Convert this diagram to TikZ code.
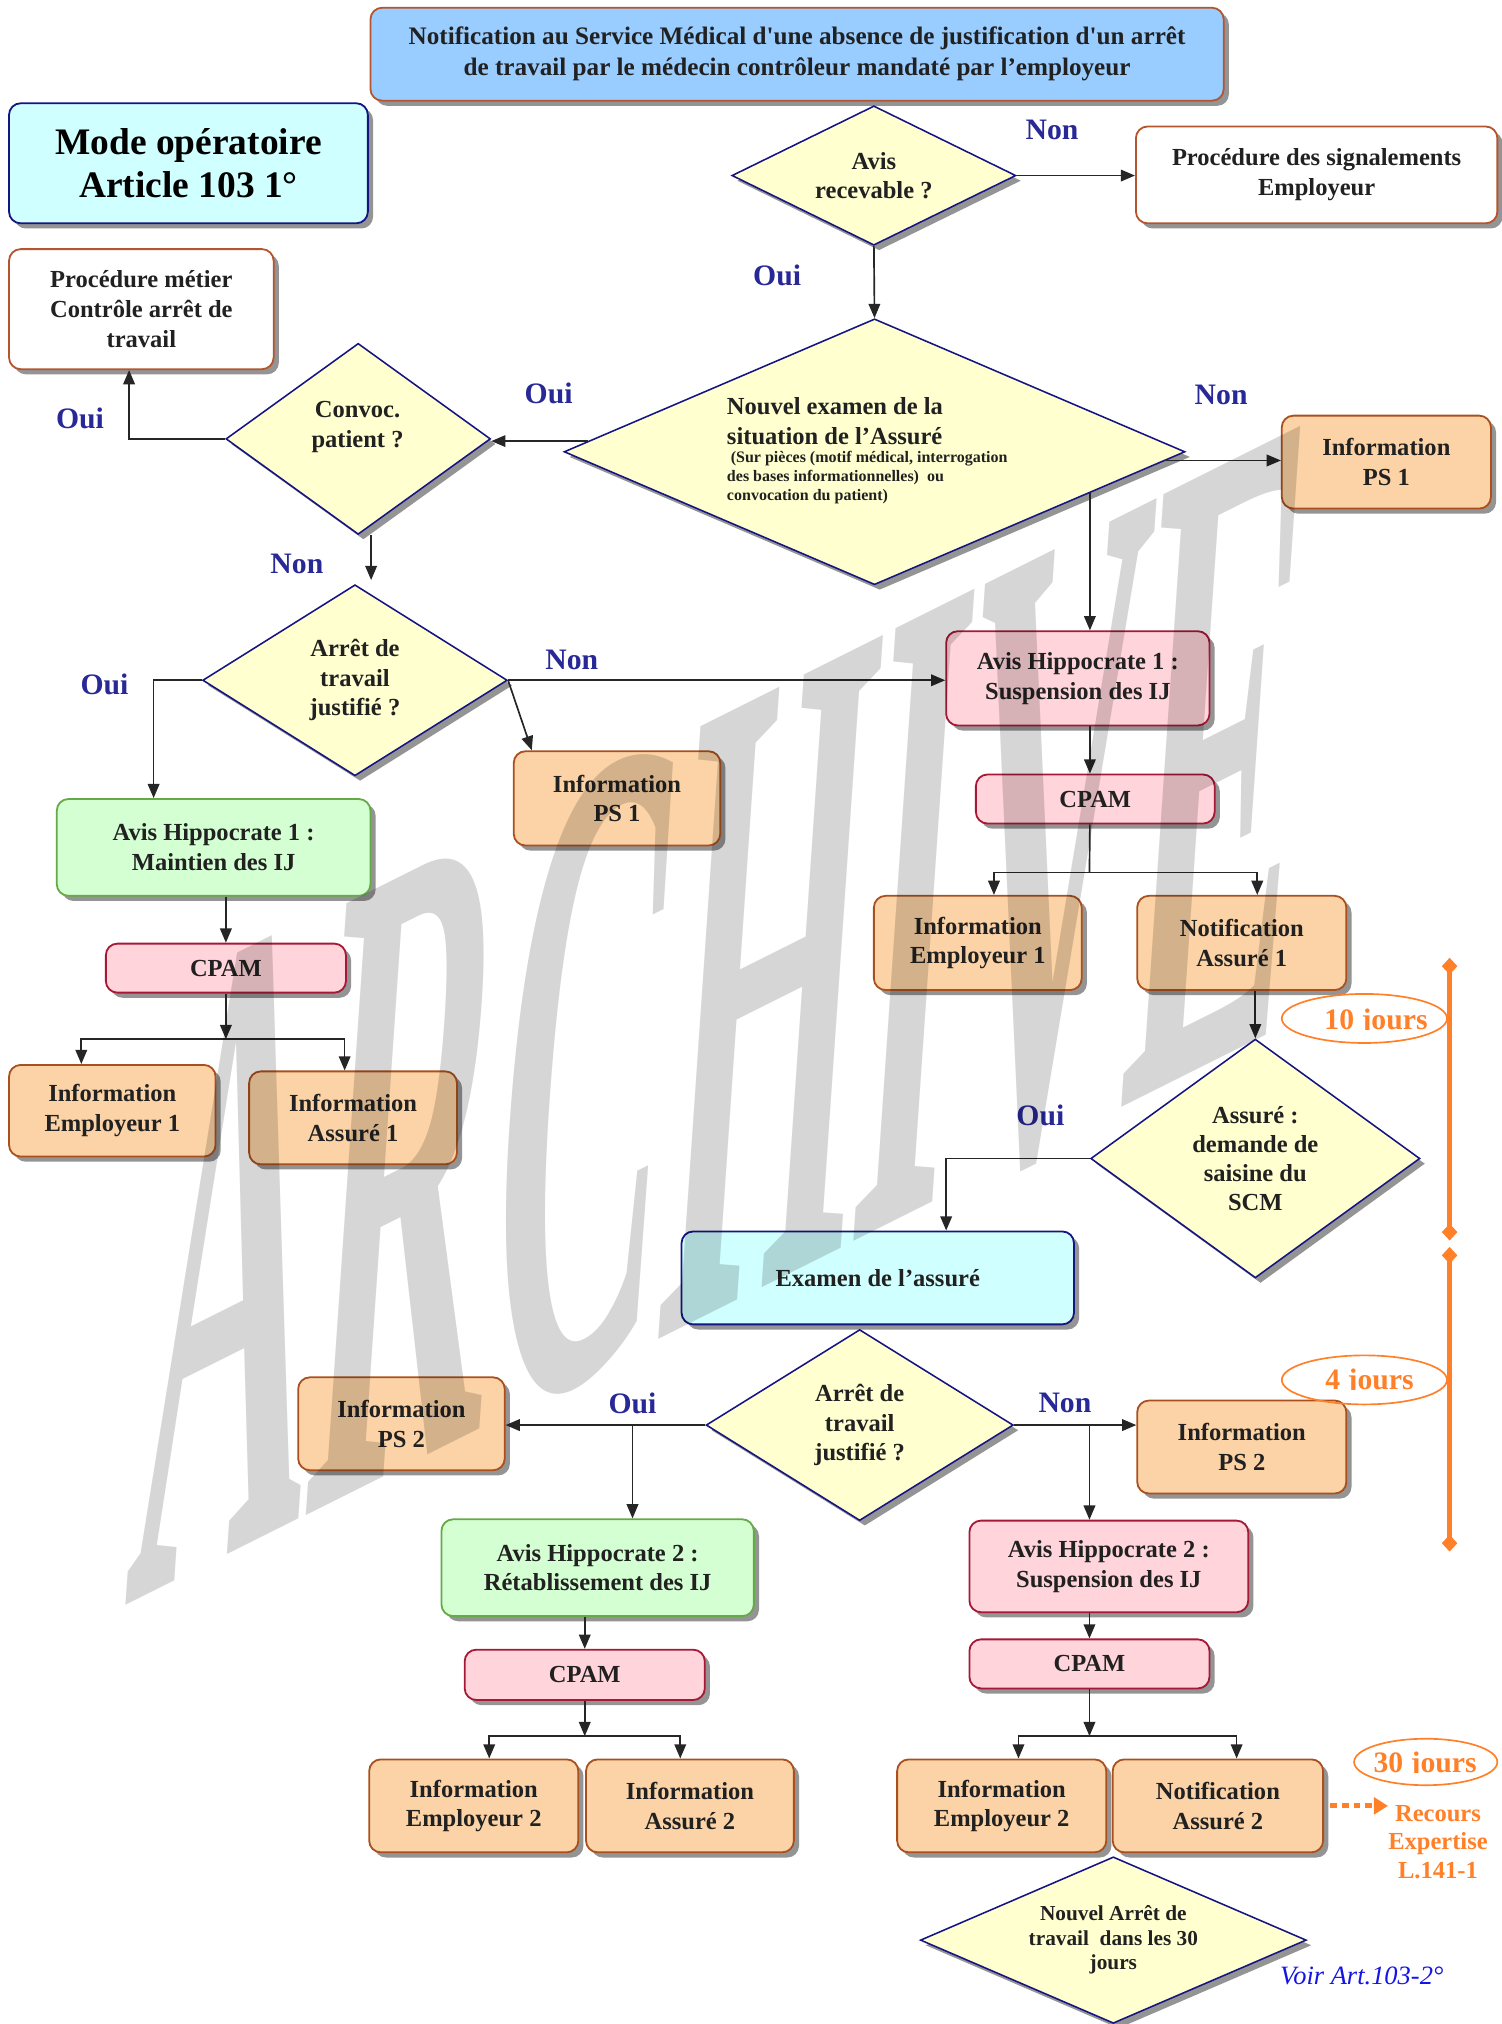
\documentclass[tikz,border=0pt]{standalone}
\usepackage{fontspec}
\setmainfont{Liberation Serif}
\newfontfamily\qfont{Liberation Serif}[Ligatures=TeXOff]
\usetikzlibrary{shapes.geometric,arrows.meta,shadows,calc}
\definecolor{peach}{RGB}{252,211,166}
\definecolor{peachb}{RGB}{170,80,30}
\definecolor{pinkf}{RGB}{255,212,218}
\definecolor{pinkb}{RGB}{165,25,55}
\definecolor{greenf}{RGB}{212,255,210}
\definecolor{greenb}{RGB}{100,170,70}
\definecolor{cyanf}{RGB}{208,255,255}
\definecolor{navyb}{RGB}{20,20,130}
\definecolor{topblue}{RGB}{153,204,255}
\definecolor{brownb}{RGB}{180,85,45}
\definecolor{yelf}{RGB}{255,255,208}
\definecolor{labnavy}{RGB}{40,40,150}
\definecolor{orng}{RGB}{255,128,40}
\definecolor{voirblue}{RGB}{20,20,230}
\newcommand\myfs[2]{\fontsize{#1}{#2}\selectfont\bfseries}
\newcommand\sq{{\qfont\bfseries '}}
\tikzset{
  shad/.style={drop shadow={shadow xshift=4pt,shadow yshift=-4pt,fill=black!42,opacity=1}},
  sz/.style 2 args={minimum width=#1pt, minimum height=#2pt},
  box/.style={rectangle, rounded corners=9pt, line width=1.4pt, align=center, inner sep=0pt, font=\myfs{19}{23}, text=black!87, shad},
  peachbox/.style={box, fill=peach, draw=peachb},
  pinkbox/.style={box, fill=pinkf, draw=pinkb},
  greenbox/.style={box, fill=greenf, draw=greenb},
  cyanbox/.style={box, fill=cyanf, draw=navyb},
  whitebox/.style={box, fill=white, draw=brownb},
  topbox/.style={box, fill=topblue, draw=brownb},
  dia/.style={diamond, draw=navyb, line width=1.2pt, fill=yelf, inner sep=0pt, align=center, font=\myfs{19}{23}, text=black!87, shad},
  dtext/.style={align=center, inner sep=0pt, font=\myfs{19}{23}, text=black!87},
  conn/.style={line width=1.3pt, draw=black!85},
  arr/.style={conn, -{Triangle[length=11pt,width=9pt]}},
  lab/.style={font=\myfs{23}{23}, text=labnavy, inner sep=0pt},
  oval/.style={ellipse, draw=orng, line width=1.3pt, inner sep=0pt},
  otext/.style={font=\myfs{23}{23}, text=orng, inner sep=0pt},
  tline/.style={draw=orng, line width=3.5pt, {Diamond[length=13pt,width=12pt]}-{Diamond[length=13pt,width=12pt]}}
}
\begin{document}
\begin{tikzpicture}[x=1pt,y=1pt]
\useasboundingbox (0,0) rectangle (1163,-1568);

% ---------- boxes ----------
\node[topbox, sz={661}{72}, font=\myfs{19.5}{24}] (top) at (617.5,-42) {Notification au Service Médical d\sq une absence de justification d\sq un arrêt\\de travail par le médecin contrôleur mandaté par l’employeur};
\node[cyanbox, sz={278}{93}, font=\myfs{29}{33}, text=black] (mode) at (146,-126.5) {Mode opératoire\\Article 103 1°};
\node[whitebox, sz={280}{75}] (procsig) at (1020,-135.5) {Procédure des signalements\\Employeur};
\node[whitebox, sz={205}{93}] (procmet) at (109.5,-239.5) {Procédure métier\\Contrôle arrêt de\\travail};
\node[peachbox, sz={162}{72}] (infops1a) at (1074,-358) {Information\\PS 1};
\node[greenbox, sz={243}{75}] (avish1m) at (165.5,-656.5) {Avis Hippocrate 1 :\\Maintien des IJ};
\node[peachbox, sz={160}{73}] (infops1b) at (478,-618.5) {Information\\PS 1};
\node[pinkbox, sz={204}{73}] (avish1s) at (835,-525.5) {Avis Hippocrate 1 :\\Suspension des IJ};
\node[pinkbox, sz={185}{38}] (cpam1r) at (848.5,-619) {CPAM};
\node[peachbox, sz={161}{73}] (infoemp1r) at (757.5,-730.5) {Information\\Employeur 1};
\node[peachbox, sz={162}{73}] (notifas1) at (962,-730.5) {Notification\\Assuré 1};
\node[pinkbox, sz={186}{38}] (cpam1l) at (175,-750) {CPAM};
\node[peachbox, sz={160}{71}] (infoemp1l) at (87,-860.5) {Information\\Employeur 1};
\node[peachbox, sz={161}{72}] (infoas1l) at (273.5,-866) {Information\\Assuré 1};
\node[cyanbox, sz={304}{72}] (examen) at (680,-990) {Examen de l’assuré};
\node[peachbox, sz={160}{72}] (infops2l) at (311,-1103) {Information\\PS 2};
\node[peachbox, sz={162}{72}] (infops2r) at (962,-1121) {Information\\PS 2};
\node[greenbox, sz={242}{75}] (avish2r) at (463,-1214.5) {Avis Hippocrate 2 :\\Rétablissement des IJ};
\node[pinkbox, sz={216}{71}] (avish2s) at (859,-1213.5) {Avis Hippocrate 2 :\\Suspension des IJ};
\node[pinkbox, sz={186}{39}] (cpam2l) at (453,-1297.5) {CPAM};
\node[pinkbox, sz={186}{38}] (cpam2r) at (844,-1289) {CPAM};
\node[peachbox, sz={162}{72}] (infoemp2l) at (367,-1399) {Information\\Employeur 2};
\node[peachbox, sz={161}{72}] (infoas2l) at (534.5,-1399) {Information\\Assuré 2};
\node[peachbox, sz={162}{72}] (infoemp2r) at (776,-1399) {Information\\Employeur 2};
\node[peachbox, sz={163}{72}] (notifas2) at (943.5,-1399) {Notification\\Assuré 2};

% ---------- diamonds ----------
\node[dia, sz={220}{108}, aspect=2.04] (recev) at (677,-136) {Avis\\recevable ?};
\node[dia, sz={481}{206}, aspect=2.33] (nouvel) at (677.5,-350) {};
\node[dtext, align=left, anchor=west] (nouvA) at (563,-326) {Nouvel examen de la\\situation de l’Assuré};
\node[dtext, align=left, anchor=west, font=\myfs{12.4}{14.5}] (nouvB) at (563,-370) {\hspace{3pt}(Sur pièces (motif médical, interrogation\\des bases informationnelles)\ \ ou\\convocation du patient)};
\node[dia, sz={205}{148}, aspect=1.385] (convoc) at (277.5,-340) {};
\node[dtext] (convoctxt) at (277,-331) {Convoc.\\patient ?};
\node[dia, sz={236}{148}, aspect=1.59] (arret1) at (275,-527) {Arrêt de\\travail\\justifié ?};
\node[dia, sz={255}{185}, aspect=1.38, font=\myfs{19}{22.5}] (saisine) at (972.5,-897.5) {Assuré :\\demande de\\saisine du\\SCM};
\node[dia, sz={238}{148}, aspect=1.61] (arret2) at (666,-1104) {Arrêt de\\travail\\justifié ?};
\node[dia, sz={299}{129}, aspect=2.32, font=\myfs{16.5}{19}] (nouvarr) at (862.5,-1503) {Nouvel Arrêt de\\travail\ \ dans les 30\\jours};

% ---------- labels ----------
\node[lab] (lnon1) at (815,-101) {Non};
\node[lab] (loui1) at (602,-213) {Oui};
\node[lab] (loui2) at (425,-305) {Oui};
\node[lab] (lnon2) at (946,-306) {Non};
\node[lab] (loui3) at (62,-324) {Oui};
\node[lab] (lnon3) at (230,-437) {Non};
\node[lab] (loui4) at (81,-530) {Oui};
\node[lab] (lnon4) at (443,-511) {Non};
\node[lab] (loui5) at (806,-864) {Oui};
\node[lab] (loui6) at (490,-1087) {Oui};
\node[lab] (lnon5) at (825,-1087) {Non};

% ---------- connectors ----------
\draw[arr] (recev.east) -- (recev.east -| procsig.west);
\draw[arr] (recev.south) -- (nouvel.north);
\coordinate (q1) at ($(nouvel.west)!0.08!(nouvel.north)$);
\draw[arr] (q1) -- (q1 -| convoc.east);
\draw[arr] (convoc.west) -| ([xshift=-9.5pt]procmet.south);
\coordinate (q2) at ([xshift=10pt]convoc.south);
\draw[arr] (q2) -- ([yshift=3pt]q2 |- arret1.north);
\draw[arr] (arret1.west) -| ([xshift=-46.5pt]avish1m.north);
\draw[arr] (arret1.east) -- (arret1.east -| avish1s.west);
\draw[arr] (arret1.east) -- ([xshift=-66pt]infops1b.north);
\coordinate (q3) at ($(nouvel.east)!0.065!(nouvel.south)$);
\draw[arr] (q3) -- (q3 -| infops1a.west);
\coordinate (p1) at ($(nouvel.east)!0.308!(nouvel.south)$);
\draw[arr] (p1) -- (p1 |- avish1s.north);
\draw[arr] (p1 |- avish1s.south) -- (p1 |- cpam1r.north);
\coordinate (j1) at (844,-676);
\draw[conn] (p1 |- cpam1r.south) -- (j1);
\draw[arr] (j1) -| ([xshift=12.5pt]infoemp1r.north);
\draw[arr] (j1) -| ([xshift=12pt]notifas1.north);
\draw[arr] (cpam1l.north |- avish1m.south) -- (cpam1l.north);
\coordinate (j2) at (175,-805);
\draw[arr] (cpam1l.south) -- (j2);
\draw[arr] (j2) -| ([xshift=-24pt]infoemp1l.north);
\draw[arr] (j2) -| ([xshift=-6.5pt]infoas1l.north);
\draw[arr] (saisine.north |- notifas1.south) -- (saisine.north);
\draw[arr] (saisine.west) -| ([xshift=53pt]examen.north);
\draw[arr] (arret2.west) -- (arret2.west -| infops2l.east);
\coordinate (b1) at (490,-1104);
\draw[arr] (b1) -- (b1 |- avish2r.north);
\draw[arr] (arret2.east) -- (arret2.east -| infops2r.west);
\coordinate (b2) at (844,-1104);
\draw[arr] (b2) -- (b2 |- avish2s.north);
\draw[arr] (cpam2l.north |- avish2r.south) -- (cpam2l.north);
\coordinate (j3) at (453,-1345);
\draw[arr] (cpam2l.south) -- (j3);
\draw[arr] (j3) -| ([xshift=12pt]infoemp2l.north);
\draw[arr] (j3) -| ([xshift=-7.5pt]infoas2l.north);
\draw[arr] (cpam2r.north |- avish2s.south) -- (cpam2r.north);
\coordinate (j4) at (844,-1345);
\draw[arr] (cpam2r.south) -- (j4);
\draw[arr] (j4) -| ([xshift=13pt]infoemp2r.north);
\draw[arr] (j4) -| ([xshift=14.5pt]notifas2.north);

% ---------- orange timing ----------
\coordinate (t1a) at (1123,-742);
\coordinate (t1b) at (1123,-961);
\coordinate (t2a) at (1123,-966);
\coordinate (t2b) at (1123,-1202);
\draw[tline] (t1a) -- (t1b);
\draw[tline] (t2a) -- (t2b);
\node[oval, sz={128}{38}] (e10) at (1057,-789) {};
\begin{scope}
\clip (990,-797.5) rectangle (1121,-770);
\node[otext, anchor=base] (t10) at (1066,-797.5) {10 jours};
\end{scope}
\node[oval, sz={128}{38}] (e4) at (1057,-1069) {};
\begin{scope}
\clip (990,-1076.5) rectangle (1121,-1050);
\node[otext, anchor=base] (t4) at (1061,-1076.5) {4 jours};
\end{scope}
\node[oval, sz={111}{36}] (e30) at (1104.5,-1365) {};
\begin{scope}
\clip (1050,-1373.5) rectangle (1159,-1348);
\node[otext, anchor=base] (t30) at (1104,-1373.5) {30 jours};
\end{scope}
\node[font=\myfs{19}{22}, text=orng, align=center, inner sep=0pt] (recours) at (1114,-1427) {Recours\\Expertise\\L.141-1};
\draw[draw=orng, line width=4pt, dash pattern=on 5pt off 4pt, -{Triangle[length=11pt,width=13pt]}] ([xshift=5pt]notifas2.east) -- (notifas2.east -| recours.west);
\node[font=\fontsize{20.5}{20.5}\selectfont\itshape, text=voirblue, inner sep=0pt] (voir) at (1055,-1531) {Voir Art.103-2°};

% ---------- watermark ----------
\begin{scope}[cm={1.9,0.95,0.5,7.25,(95,-1245)}]
\node[transform shape, anchor=base west, inner sep=0pt, font=\fontsize{100}{100}\selectfont\bfseries, text=black, text opacity=0.16] (wm) at (0,0) {ARCHIVE};
\end{scope}
\end{tikzpicture}
\end{document}
